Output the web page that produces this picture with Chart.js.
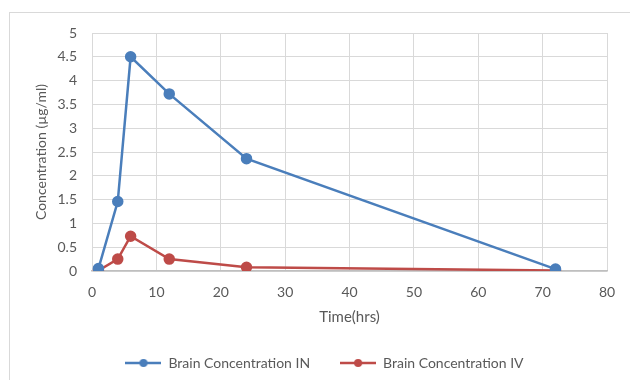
<!DOCTYPE html>
<html>
<head>
<meta charset="utf-8">
<script src="https://cdn.jsdelivr.net/npm/chart.js@4"></script>
<style>
  body { margin: 0; background: #fff; }
  #wrap { position: relative; width: 630px; height: 380px; overflow: hidden; }
  #frame { position: absolute; left: 9px; top: 12px; width: 640px; height: 400px; border: 1px solid #d9d9d9; box-sizing: border-box; }
  #myChart { position: absolute; left: 0; top: 0; }
</style>
</head>
<body>
<div id="wrap">
  <div id="frame"></div>
  <canvas id="myChart" width="630" height="380"></canvas>
</div>
<script>
const timeHrs = [1, 4, 6, 12, 24, 72];
const brainIN = [0.05, 1.46, 4.5, 3.72, 2.36, 0.04];
const brainIV = [0.01, 0.25, 0.73, 0.25, 0.08, 0.01];
const seriesNames = ["Brain Concentration IN", "Brain Concentration IV"];

const blue = "#4a7ebb";
const red = "#be4b48";
const textColor = "#595959";
const fontFamily = "Lato, 'Open Sans', sans-serif";

function legendMark(color) {
  const c = document.createElement("canvas");
  c.width = 36;
  c.height = 12;
  const g = c.getContext("2d");
  g.strokeStyle = color;
  g.lineWidth = 2.5;
  g.beginPath();
  g.moveTo(0, 6);
  g.lineTo(36, 6);
  g.stroke();
  g.fillStyle = color;
  g.beginPath();
  g.arc(18, 6, 4, 0, Math.PI * 2);
  g.fill();
  return c;
}

function toPoints(xs, ys) {
  return xs.map((x, i) => ({ x: x, y: ys[i] }));
}

// nudge the legend a little to the right, like the original
const legendShift = {
  id: "legendShift",
  afterLayout(chart) {
    chart.legend.left += 9;
    chart.legend.right += 9;
  },
};

function myLoadFunction() {
  const ctx = document.getElementById("myChart");

  const config = {
    type: "line",
    data: {
      datasets: [
        {
          label: seriesNames[0],
          data: toPoints(timeHrs, brainIN),
          borderColor: blue,
          backgroundColor: blue,
          borderWidth: 2.5,
          pointRadius: 4.5,
          pointHoverRadius: 4.5,
          tension: 0,
        },
        {
          label: seriesNames[1],
          data: toPoints(timeHrs, brainIV),
          borderColor: red,
          backgroundColor: red,
          borderWidth: 2.5,
          pointRadius: 4.5,
          pointHoverRadius: 4.5,
          tension: 0,
        },
      ],
    },
    options: {
      responsive: false,
      animation: false,
      layout: { padding: { left: 24, right: 23, top: 33, bottom: 0 } },
      scales: {
        x: {
          type: "linear",
          min: 0,
          max: 80,
          ticks: { stepSize: 10, color: textColor, font: { family: fontFamily, size: 14 }, padding: 13 },
          grid: { color: "#d9d9d9", drawTicks: false },
          border: { color: "#bfbfbf", width: 1.5 },
          title: { display: true, text: "Time(hrs)", color: textColor, font: { family: fontFamily, size: 15 }, padding: { top: 8, bottom: 0 } },
          afterFit: (s) => { s.height = 55; },
        },
        y: {
          min: 0,
          max: 5,
          ticks: {
            stepSize: 0.5,
            color: textColor,
            font: { family: fontFamily, size: 14 },
            padding: 15,
            callback: (v) => String(Number(v.toFixed(1))),
          },
          grid: { color: "#d9d9d9", drawTicks: false },
          border: { color: "#d9d9d9" },
          title: { display: true, text: "Concentration (µg/ml)", color: textColor, font: { family: fontFamily, size: 14 }, padding: { top: 9, bottom: 0 } },
          afterFit: (s) => { s.width = 68; },
        },
      },
      plugins: {
        tooltip: { enabled: false },
        legend: {
          position: "bottom",
          labels: {
            usePointStyle: true,
            pointStyleWidth: 36,
            color: textColor,
            font: { family: fontFamily, size: 14 },
            padding: 30,
            generateLabels: (chart) =>
              chart.data.datasets.map((d, i) => ({
                text: d.label,
                fontColor: textColor,
                pointStyle: legendMark(d.borderColor),
                datasetIndex: i,
                lineWidth: 0,
                strokeStyle: "transparent",
                fillStyle: "transparent",
              })),
          },
        },
      },
    },
    plugins: [legendShift],
  };

  new Chart(ctx, config);
}

document.addEventListener("DOMContentLoaded", myLoadFunction);
</script>
</body>
</html>
